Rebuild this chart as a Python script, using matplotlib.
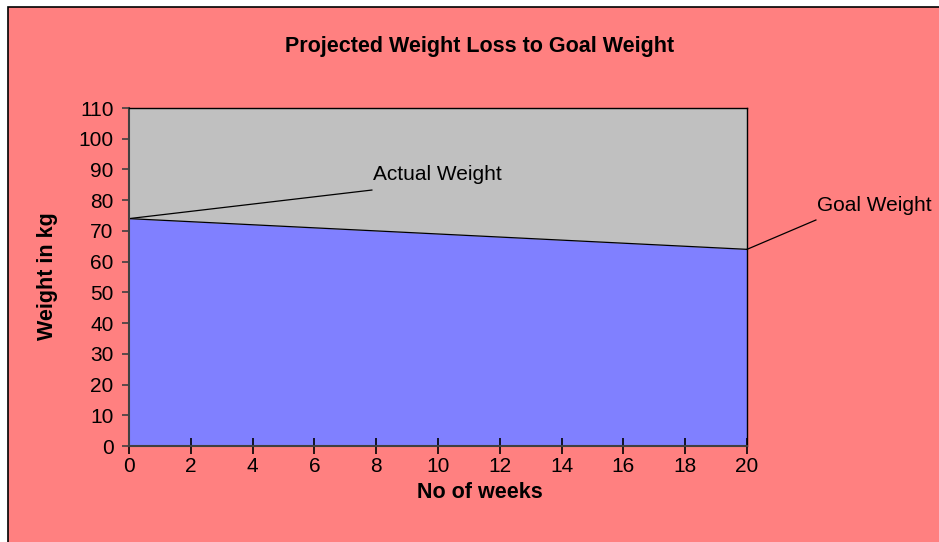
import numpy as np
import matplotlib.pyplot as plt
from matplotlib.patches import Rectangle

plt.rcParams['font.family'] = ['Liberation Sans', 'DejaVu Sans']

weeks = [0, 1, 2, 3, 4, 5, 6, 7, 8, 9, 10, 11, 12, 13, 14, 15, 16, 17, 18, 19, 20]
weight = [74, 73.5, 73, 72.5, 72, 71.5, 71, 70.5, 70, 69.5, 69,
          68.5, 68, 67.5, 67, 66.5, 66, 65.5, 65, 64.5, 64]
x_ticks = [0, 2, 4, 6, 8, 10, 12, 14, 16, 18, 20]
y_ticks = [0, 10, 20, 30, 40, 50, 60, 70, 80, 90, 100, 110]

W, H = 939, 542
fig = plt.figure(figsize=(W / 100, H / 100), dpi=100)
fig.patch.set_facecolor('white')

# chart area background with black border (cut off at right/bottom)
bg = Rectangle((8 / W, -0.05), 1.1, 1 - 7 / H + 0.05, transform=fig.transFigure,
               facecolor='#FF8080', edgecolor='black', linewidth=1.2, zorder=-10)
fig.patches.append(bg)

ax = fig.add_axes([129 / W, 1 - 446 / H, (747 - 129) / W, (446 - 108) / H])
ax.set_facecolor('#C0C0C0')
ax.fill_between(weeks, weight, 0, color='#8080FF', linewidth=0)
ax.plot(weeks, weight, color='black', linewidth=0.9)

ax.set_xlim(0, 20)
ax.set_ylim(0, 110)
ax.set_xticks(x_ticks)
ax.set_yticks(y_ticks)
ax.tick_params(axis='x', direction='inout', length=11.5, width=1.2, labelsize=15, pad=2)
ax.tick_params(axis='y', direction='out', length=5, width=1.2, labelsize=15, pad=6,
               color='#404040')
for s in ['top', 'right']:
    ax.spines[s].set_color('black')
    ax.spines[s].set_linewidth(1.0)
for s in ['left', 'bottom']:
    ax.spines[s].set_color('#404040')
    ax.spines[s].set_linewidth(1.5)

fig.text(480 / W, 1 - 52 / H, 'Projected Weight Loss to Goal Weight', ha='center', va='baseline',
         fontsize=15.5, fontweight='bold')
fig.text(480 / W, 1 - 498 / H, 'No of weeks', ha='center', va='baseline',
         fontsize=15.5, fontweight='bold')
fig.text(47 / W, 1 - 276 / H, 'Weight in kg', ha='center', va='center', rotation=90,
         fontsize=15.5, fontweight='bold')

# data labels with leader lines
ax.plot([weeks[0], 7.86], [weight[0], 83.3], color='black', lw=0.9, clip_on=False)
ax.text(7.9, 88.5, 'Actual Weight', fontsize=15, va='center', ha='left')
ax.plot([weeks[-1], 22.23], [weight[-1], 73.55], color='black', lw=0.9, clip_on=False)
ax.text(22.25, 78.3, 'Goal Weight', fontsize=15, va='center', ha='left', clip_on=False)

fig.savefig('out.png', dpi=100)
